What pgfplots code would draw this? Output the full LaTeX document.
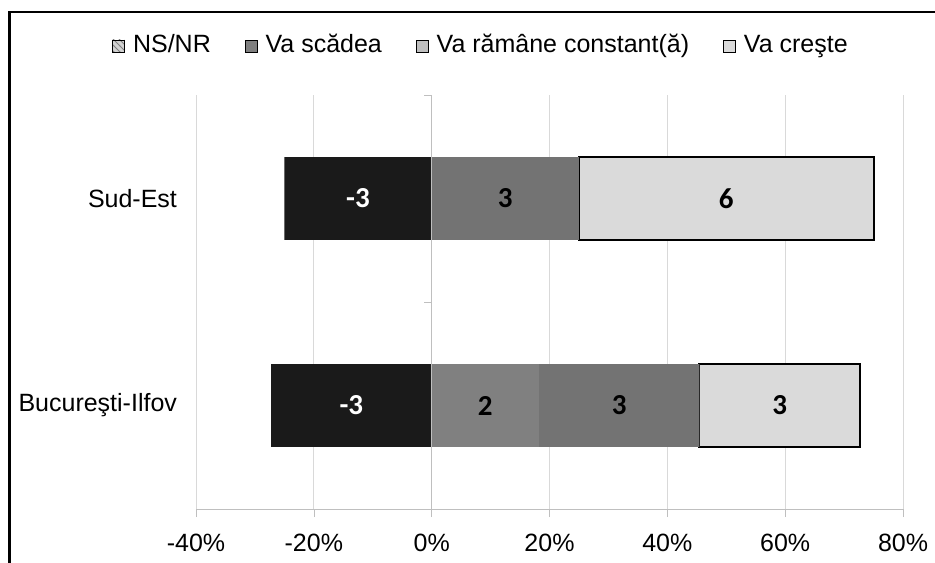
\documentclass[border=0pt]{standalone}
\usepackage{pgfplots}
\pgfplotsset{compat=1.18}
\usepackage{fontspec}
\setmainfont{Liberation Sans}
\newfontfamily\calibri{Carlito}
\usetikzlibrary{patterns}
\definecolor{blk}{HTML}{1A1A1A}
\definecolor{cst}{HTML}{808080}
\definecolor{scd}{HTML}{737373}
\definecolor{crs}{HTML}{DADADA}
\definecolor{gridc}{HTML}{D9D9D9}
\definecolor{axc}{HTML}{BFBFBF}
\newcommand{\fs}{\fontsize{12.5}{15}\selectfont}
\newcommand{\fb}{\fontsize{14.5}{17}\selectfont}
\begin{document}
\begin{tikzpicture}
\useasboundingbox (0,0) rectangle (467.5pt,281pt);
\begin{scope}
\clip (0,0) rectangle (467.5pt,281pt);
\draw[line width=1.2pt] (4.75pt,-10pt) -- (4.75pt,275pt) -- (480pt,275pt);
\end{scope}
\begin{axis}[at={(98pt,26.5pt)}, anchor=south west, scale only axis,
  width=353.5pt, height=207pt,
  xbar stacked, bar width=0.4,
  xmin=-40, xmax=80, ymin=-0.5, ymax=1.5,
  xtick={-40,-20,...,80},
  xticklabel={\pgfmathprintnumber[assume math mode=true]{\tick}\%},
  ytick={0,1}, yticklabels={Bucureşti-Ilfov, Sud-Est},
  axis x line*=bottom, axis y line*=left,
  x axis line style={draw=axc, -}, y axis line style={draw=none},
  xtick style={draw=axc}, ytick style={draw=none},
  tick align=outside, major tick length=4pt,
  xmajorgrids, grid style={draw=gridc},
  tick label style={font=\fs, text=black},
  xticklabel style={yshift=-5pt},
  yticklabel style={xshift=-2pt},
  legend columns=4,
  legend style={draw=none, fill=none, at={(0.4045,1.1208)}, anchor=center, font=\fs,
    /tikz/every even column/.append style={column sep=15pt},
    /tikz/every odd column/.append style={column sep=2pt}},
  legend cell align=left,
]
\addlegendimage{legend image code/.code={\fill[gray!35] (0pt,-3.5pt) rectangle (6pt,2.5pt); \fill[pattern=north west lines, pattern color=gray] (0pt,-3.5pt) rectangle (6pt,2.5pt);}}
\addlegendentry{NS/NR}
\addlegendimage{legend image code/.code={\fill[fill=scd!110!black] (0pt,-3.5pt) rectangle (6pt,2.5pt);}}
\addlegendentry{Va scădea}
\addlegendimage{legend image code/.code={\fill[fill=axc] (0pt,-3.5pt) rectangle (6pt,2.5pt);}}
\addlegendentry{Va rămâne constant(ă)}
\addlegendimage{legend image code/.code={\fill[fill=crs] (0pt,-3.5pt) rectangle (6pt,2.5pt);}}
\addlegendentry{Va creşte}
% black (negative) segment
\addplot[forget plot, fill=blk, draw=none] coordinates {(-27.27,0) (-25,1)};
% Va ramane constant
\addplot[forget plot, fill=cst, draw=none] coordinates {(18.18,0) (0,1)};
% Va scadea
\addplot[forget plot, fill=scd, draw=none] coordinates {(27.27,0) (25,1)};
% Va creste
\addplot[forget plot, fill=crs, draw=black, line width=1pt] coordinates {(27.27,0) (50,1)};
\end{axis}
\begin{axis}[at={(98pt,26.5pt)}, anchor=south west, scale only axis,
  width=353.5pt, height=207pt,
  xmin=-40, xmax=80, ymin=-0.5, ymax=1.5, hide axis, clip=false]
\draw[axc] (axis cs:0,-0.5) -- (axis cs:0,1.5);
\draw[axc] (axis cs:0,0.5) -- ([xshift=-4pt]axis cs:0,0.5);
\draw[axc] (axis cs:0,1.5) -- ([xshift=-4pt]axis cs:0,1.5);
\addplot[draw=none, mark=none, nodes near coords, point meta=explicit symbolic,
  nodes near coords style={anchor=center, font=\calibri\bfseries\fb, text=white}]
  table[meta=l] {
x y l
-12.5 1 -3
-13.64 0 -3
};
\addplot[draw=none, mark=none, nodes near coords, point meta=explicit symbolic,
  nodes near coords style={anchor=center, font=\calibri\bfseries\fb, text=black}]
  table[meta=l] {
x y l
12.5 1 3
50 1 6
9.09 0 2
31.82 0 3
59.09 0 3
};
\end{axis}
\end{tikzpicture}
\end{document}
